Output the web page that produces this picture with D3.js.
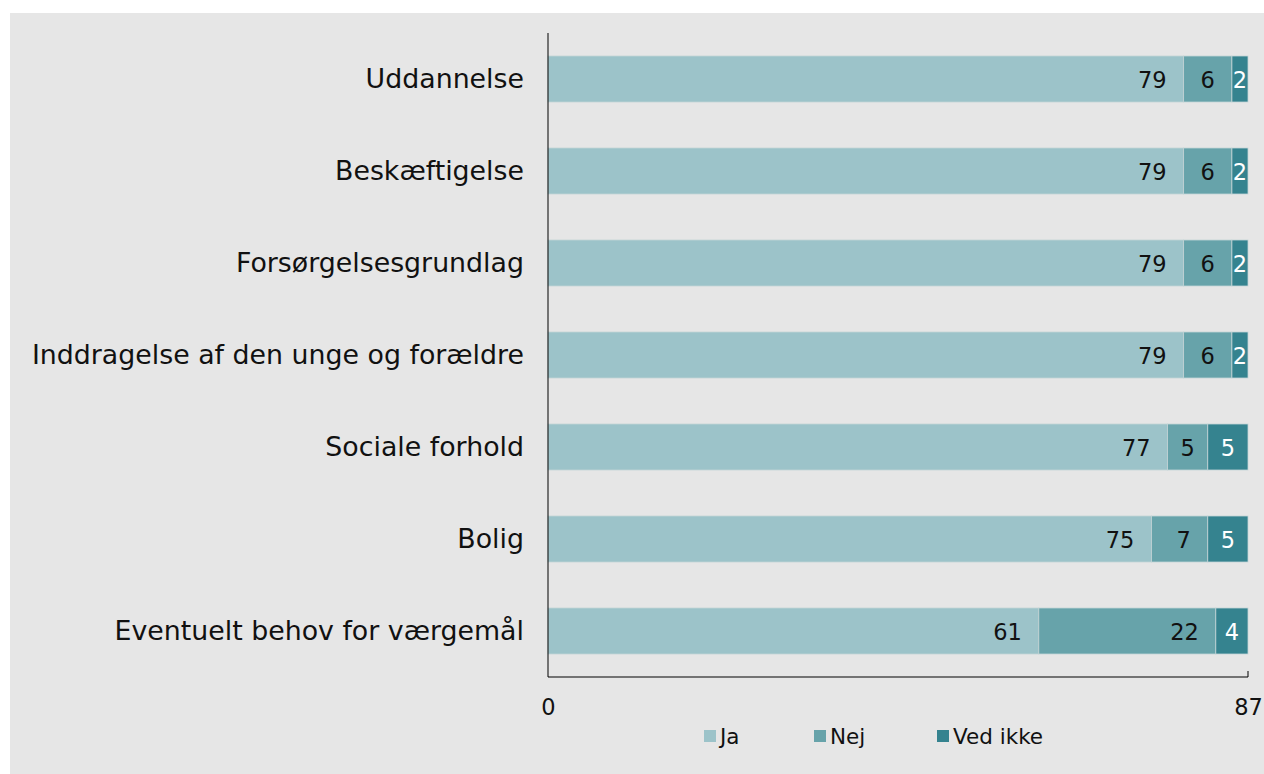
<!DOCTYPE html>
<html>
<head>
<meta charset="utf-8">
<script src="https://cdn.jsdelivr.net/npm/d3@7"></script>
<style>
  body { margin: 0; background: #fff; }
  svg { display: block; font-family: "DejaVu Sans", Verdana, sans-serif; }
</style>
</head>
<body>
<div id="wrapper"></div>
<script>
// data
const categories = [
  "Uddannelse",
  "Beskæftigelse",
  "Forsørgelsesgrundlag",
  "Inddragelse af den unge og forældre",
  "Sociale forhold",
  "Bolig",
  "Eventuelt behov for værgemål"
]
const seriesNames = ["Ja", "Nej", "Ved ikke"]
const ja = [79, 79, 79, 79, 77, 75, 61]
const nej = [6, 6, 6, 6, 5, 7, 22]
const vedIkke = [2, 2, 2, 2, 5, 5, 4]
const xTicks = [0, 87]
const colors = ["#9cc3c9", "#67a3aa", "#35838f"]
const labelColors = ["#111", "#111", "#fff"]

function drawChart() {
  // 1. dimensions
  let dimensions = {
    width: 1264,
    height: 774,
    margin: { top: 33, right: 16, bottom: 97, left: 548 },
  }
  dimensions.boundedWidth = dimensions.width - dimensions.margin.left - dimensions.margin.right
  dimensions.boundedHeight = dimensions.height - dimensions.margin.top - dimensions.margin.bottom

  // 2. data table
  const table = categories.map((c, i) => ({ cat: c, Ja: ja[i], Nej: nej[i], "Ved ikke": vedIkke[i] }))
  const stacked = d3.stack().keys(seriesNames)(table)

  // 3. scales
  const xScale = d3.scaleLinear()
    .domain([0, 87])
    .range([0, dimensions.boundedWidth])

  const yScale = d3.scaleBand()
    .domain(categories)
    .range([0, dimensions.boundedHeight])
    .paddingInner(0.5)
    .paddingOuter(0.25)

  const color = d3.scaleOrdinal().domain(seriesNames).range(colors)

  // 4. canvas
  const wrapper = d3.select("#wrapper")
    .append("svg")
      .attr("width", dimensions.width)
      .attr("height", dimensions.height)

  wrapper.append("rect")
    .attr("x", 10)
    .attr("y", 13)
    .attr("width", dimensions.width - 10)
    .attr("height", dimensions.height - 13)
    .attr("fill", "#e6e6e6")

  const bounds = wrapper.append("g")
    .attr("transform", `translate(${dimensions.margin.left}, ${dimensions.margin.top})`)

  // 5. bars
  const layers = bounds.selectAll("g.layer")
    .data(stacked)
    .join("g")
      .attr("class", "layer")
      .attr("fill", d => color(d.key))

  layers.selectAll("rect")
    .data(d => d)
    .join("rect")
      .attr("x", d => xScale(d[0]))
      .attr("y", d => yScale(d.data.cat))
      .attr("width", d => xScale(d[1]) - xScale(d[0]))
      .attr("height", yScale.bandwidth())
      .attr("stroke", "#c4d4d6")
      .attr("stroke-width", 0.8)

  // value labels, inside end, centred when too narrow
  const pad = 17
  stacked.forEach((layer, li) => {
    layer.forEach(d => {
      const x0 = xScale(d[0]), x1 = xScale(d[1])
      const t = bounds.append("text")
        .text(d[1] - d[0])
        .attr("y", yScale(d.data.cat) + yScale.bandwidth() / 2 + 1)
        .attr("dy", "0.35em")
        .attr("fill", labelColors[li])
        .style("font-size", "22.5px")
      const w = t.node().getComputedTextLength()
      if (x1 - x0 >= w + pad * 1.6) {
        t.attr("x", x1 - pad).attr("text-anchor", "end")
      } else {
        t.attr("x", (x0 + x1) / 2).attr("text-anchor", "middle")
      }
    })
  })

  // 6. axes
  const yAxis = d3.axisLeft(yScale).tickSize(0).tickPadding(24)
  const yAxisGroup = bounds.append("g").call(yAxis)
  yAxisGroup.select(".domain")
    .attr("d", `M0,0V${dimensions.boundedHeight}`)
    .attr("stroke", "#000")
  yAxisGroup.selectAll("text")
    .style("font-size", "26.8px")
    .style("font-family", "DejaVu Sans, Verdana, sans-serif")
    .attr("fill", "#111")

  const xAxis = d3.axisBottom(xScale).tickValues(xTicks).tickSize(0).tickPadding(22)
  const xAxisGroup = bounds.append("g")
    .attr("transform", `translate(0, ${dimensions.boundedHeight})`)
    .call(xAxis)
  xAxisGroup.select(".domain")
    .attr("d", `M0,0H${dimensions.boundedWidth}V-6`)
    .attr("stroke", "#000")
    .attr("fill", "none")
  xAxisGroup.selectAll("text")
    .style("font-size", "22.5px")
    .style("font-family", "DejaVu Sans, Verdana, sans-serif")
    .attr("fill", "#111")

  // 7. legend
  const legendX = [704, 814, 937]
  const legend = wrapper.append("g")
    .selectAll("g")
    .data(seriesNames)
    .join("g")
      .attr("transform", (d, i) => `translate(${legendX[i]}, 730)`)
  legend.append("rect")
    .attr("width", 12)
    .attr("height", 12)
    .attr("fill", d => color(d))
  legend.append("text")
    .text(d => d)
    .attr("x", 16)
    .attr("y", 6)
    .attr("dy", "0.35em")
    .attr("fill", "#111")
    .style("font-size", "21.5px")
}

drawChart()
</script>
</body>
</html>
